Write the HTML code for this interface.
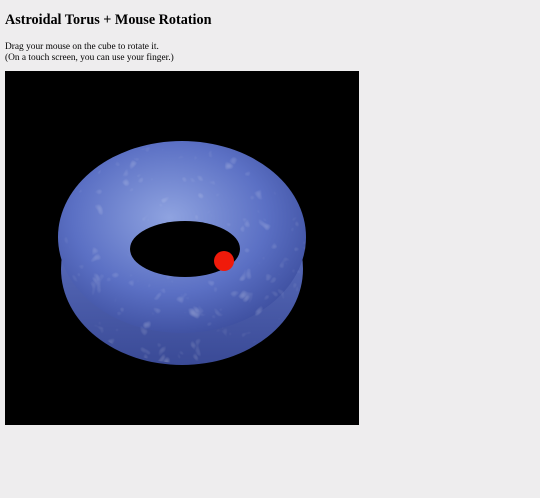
<!DOCTYPE html>
<html><head><meta charset="utf-8"><style>
body{margin:0;background:#eeedee;font-family:"Liberation Serif",serif;color:#000;width:540px;height:498px;overflow:hidden}
h1{position:absolute;left:5px;top:0;margin:0;font-size:14.2px;line-height:40px;font-weight:bold}
p{position:absolute;left:5px;top:42px;margin:0;font-size:9.4px;line-height:11px}
#cv{position:absolute;left:5px;top:71px;width:354px;height:354px;background:#000}
</style></head><body>
<h1>Astroidal Torus + Mouse Rotation</h1>
<p>Drag your mouse on the cube to rotate it.<br>(On a touch screen, you can use your finger.)</p>
<div id="cv">
<svg width="354" height="354">
<defs>
<radialGradient id="g" cx="0.45" cy="0.4" r="0.65">
<stop offset="0" stop-color="#8fa3e0"/><stop offset="0.6" stop-color="#5b70c4"/><stop offset="1" stop-color="#3b4c9c"/></radialGradient>
<linearGradient id="s" x1="0" y1="0" x2="0" y2="1"><stop offset="0" stop-color="#6a7fd0"/><stop offset="1" stop-color="#3a4a96"/></linearGradient>
<filter id="n"><feTurbulence baseFrequency="0.06" numOctaves="2" seed="3"/><feColorMatrix values="0 0 0 0 1 0 0 0 0 1 0 0 0 0 1 0 0 0 1.2 -0.55"/><feComposite in2="SourceGraphic" operator="in"/></filter>
</defs>
<ellipse cx="177" cy="198" rx="121" ry="96" fill="url(#s)"/>
<ellipse cx="177" cy="166" rx="124" ry="96" fill="url(#g)"/>
<ellipse cx="177" cy="182" rx="124" ry="110" fill="#fff" filter="url(#n)" opacity="0.6"/>
<ellipse cx="180" cy="178" rx="55" ry="28" fill="#000"/>
<circle cx="219" cy="190" r="10" fill="#f01a0a"/>
</svg></div>
</body></html>
